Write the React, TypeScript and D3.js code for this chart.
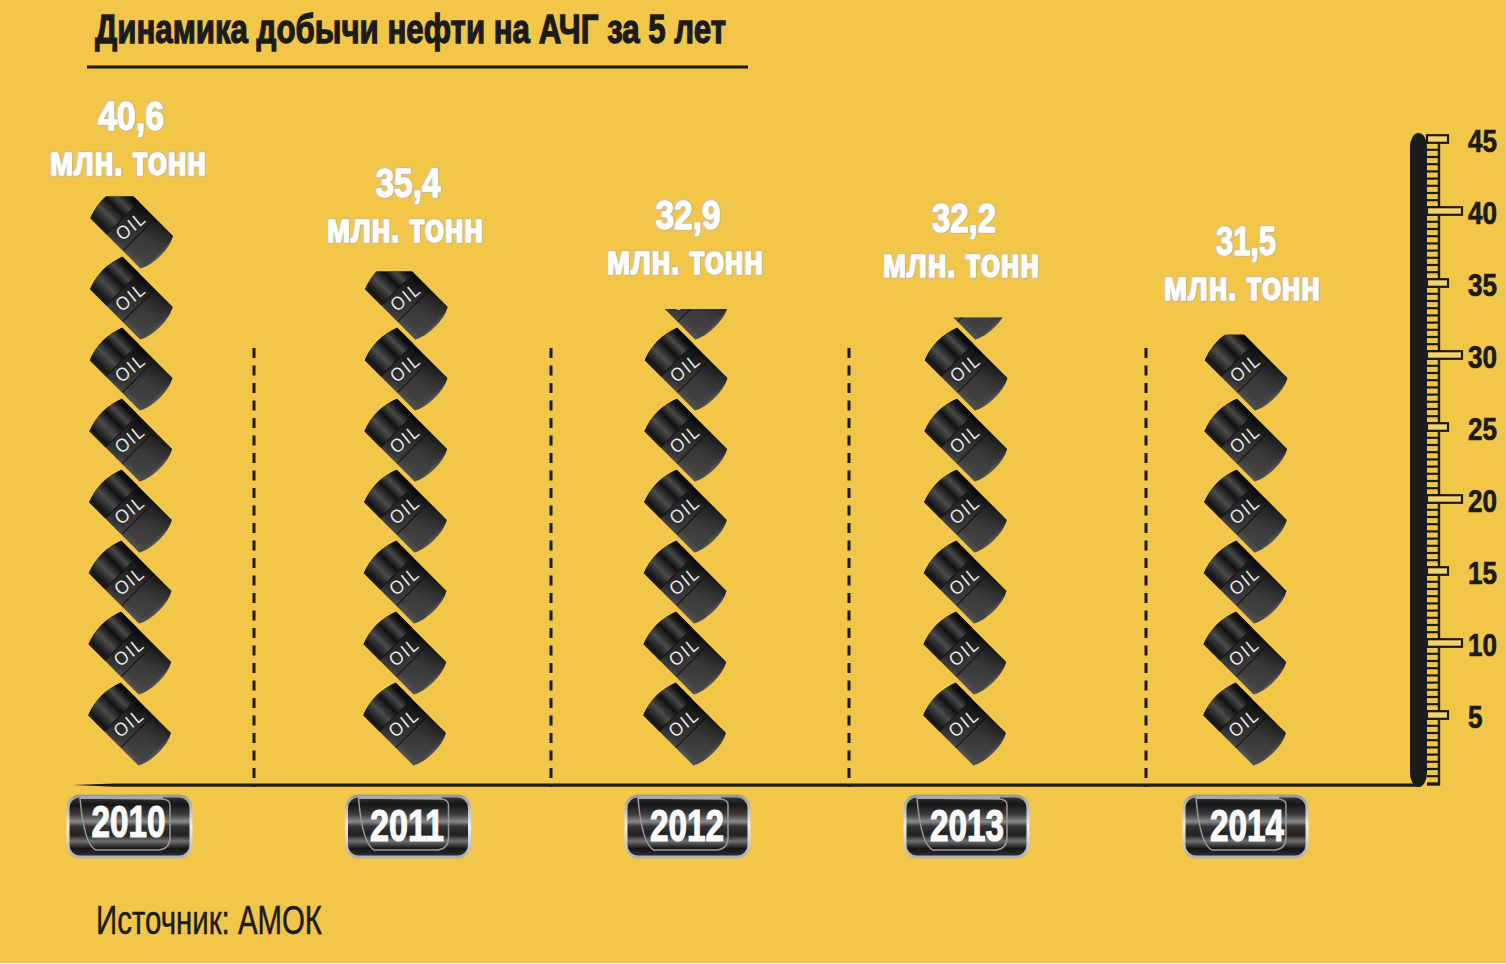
import { useEffect, useRef } from "react";
import * as d3 from "d3";

const years = ["2010", "2011", "2012", "2013", "2014"];
const values = ["40,6", "35,4", "32,9", "32,2", "31,5"];
// how high each stack is cut off, read on the ruler
const stackTops = [41, 35.8, 33.2, 32.6, 31.4];
const barrelCounts = [8, 7, 7, 7, 6];
const rulerLabels = [5, 10, 15, 20, 25, 30, 35, 40, 45];

const unit = "млн. тонн";
const title = "Динамика добычи нефти на АЧГ за 5 лет";
const source = "Источник: АМОК";

const BG = "#f2c649";
const INK = "#1b1b1b";
const NARROW = "'Liberation Sans', sans-serif";

// column centres and label layout
const columnX = [130, 405, 685, 965, 1245];
const badgeX = [129.5, 408, 687.5, 966.5, 1245.5];
const badgeTextX = [128.5, 407, 687, 967, 1247];
const badgeTextBase = [837, 841, 841, 841, 841];
const valueBase = [130, 197, 229, 232, 255];
const unitBase = [175, 242, 274, 277, 300];
const valueX = [131, 408, 688, 964, 1246];
const valueWidths = [66, 65, 65, 64, 60];
const unitX = [128, 405, 685, 961, 1242];
const dividers = [254, 551, 849, 1146];

function drawBarrel(g: any) {
  // local frame: long axis along x, turned 45deg afterwards
  const body = "M-34,-23 Q-43,0 -34,23 L37,23 Q42,14 42,0 Q42,-14 37,-23 Z";
  const head = "M-34,-23 Q-43,0 -34,23 L-11,23 L-11,-23 Z";
  g.append("path").attr("d", body).attr("fill", "url(#barrelSide)");
  g.append("path").attr("d", body).attr("fill", "url(#barrelLen)");
  g.append("path").attr("d", head).attr("fill", "url(#barrelHead)");
  [-11, 12].forEach((x) => {
    g.append("line")
      .attr("x1", x)
      .attr("x2", x)
      .attr("y1", -22.5)
      .attr("y2", 22.5)
      .attr("stroke", "#161616")
      .attr("stroke-width", 1.2);
  });
  g.append("text")
    .attr("transform", "rotate(-84)")
    .attr("text-anchor", "middle")
    .attr("y", 6.5)
    .attr("x", 0)
    .attr("font-family", "'Open Sans', sans-serif")
    .attr("font-size", 18)
    .attr("letter-spacing", 1.5)
    .attr("fill", "#ececec")
    .text("OIL");
}

function drawBadge(g: any, w: number, h: number) {
  g.append("rect")
    .attr("x", -w / 2)
    .attr("y", -h / 2)
    .attr("width", w)
    .attr("height", h)
    .attr("rx", 12)
    .attr("fill", "url(#badgeFill)")
    .attr("stroke", "url(#badgeEdge)")
    .attr("stroke-width", 3);
  g.append("path")
    .attr(
      "d",
      `M${-w / 2 + 12},${-h / 2 + 2} Q${-w / 2 + 16},${h / 2 - 12} ${-w / 2 + 28},${h / 2 - 7} L${w / 2 - 32},${h / 2 - 7} Q${w / 2 - 21},${h / 2 - 8} ${w / 2 - 21},${h / 2 - 20} L${w / 2 - 21},${-h / 2 + 9} Q${w / 2 - 21},${-h / 2 + 3} ${w / 2 - 30},${-h / 2 + 3} Z`
    )
    .attr("fill", "none")
    .attr("stroke", "#9a9a9a")
    .attr("stroke-width", 1.5);
  g.append("rect")
    .attr("x", -w / 2 + 12)
    .attr("y", -h / 2)
    .attr("width", w - 40)
    .attr("height", 3)
    .attr("fill", "#a8a8a8");
}

// white letters with a thin grey rim
function outlined(g: any, x: number, yy: number, size: number, width: number, text: string) {
  [
    ["#b5b5b5", 3],
    ["#ffffff", 1.3],
  ].forEach(([stroke, sw]) => {
    g.append("text")
      .attr("x", x)
      .attr("y", yy)
      .attr("font-family", NARROW)
      .attr("font-weight", 700)
      .attr("font-size", size)
      .attr("textLength", width)
      .attr("lengthAdjust", "spacingAndGlyphs")
      .attr("stroke", stroke)
      .attr("stroke-width", sw)
      .attr("stroke-linejoin", "round")
      .text(text);
  });
}

export default function App() {
  const svgRef = useRef<SVGSVGElement>(null);

  useEffect(() => {
    if (!svgRef.current) return;

    const svg = d3.select(svgRef.current);
    svg.selectAll("*").remove();

    const y = d3.scaleLinear().domain([0, 45]).range([787, 139]);
    const barrelY = d3.scaleLinear().domain([0, 7]).range([723, 226]);

    const defs = svg.append("defs");

    const side = defs
      .append("linearGradient")
      .attr("id", "barrelSide")
      .attr("x1", 0)
      .attr("x2", 0)
      .attr("y1", 0)
      .attr("y2", 1);
    [
      [0, "#0a0a0a"],
      [0.18, "#1f1f1f"],
      [0.5, "#343434"],
      [0.85, "#3c3c3c"],
      [1, "#525252"],
    ].forEach(([o, c]) => side.append("stop").attr("offset", o).attr("stop-color", c));

    const len = defs
      .append("linearGradient")
      .attr("id", "barrelLen")
      .attr("x1", 0)
      .attr("x2", 1)
      .attr("y1", 0)
      .attr("y2", 0);
    [
      [0, "#000", 0.3],
      [0.45, "#000", 0.25],
      [0.7, "#555", 0.15],
      [0.95, "#555", 0.35],
      [1, "#777", 0.6],
    ].forEach(([o, c, a]) =>
      len.append("stop").attr("offset", o).attr("stop-color", c).attr("stop-opacity", a)
    );

    const head = defs
      .append("linearGradient")
      .attr("id", "barrelHead")
      .attr("x1", 0)
      .attr("x2", 0)
      .attr("y1", 0)
      .attr("y2", 1);
    [
      [0, "#0a0a0a"],
      [0.1, "#0f0f0f"],
      [0.27, "#484848"],
      [0.45, "#111111"],
      [0.68, "#4a4a4a"],
      [0.92, "#161616"],
      [1, "#222222"],
    ].forEach(([o, c]) => head.append("stop").attr("offset", o).attr("stop-color", c));

    const fill = defs
      .append("linearGradient")
      .attr("id", "badgeFill")
      .attr("x1", 0)
      .attr("x2", 0)
      .attr("y1", 0)
      .attr("y2", 1);
    [
      [0, "#3a3a3a"],
      [0.14, "#161616"],
      [0.3, "#3c3c3c"],
      [0.42, "#8a8a8a"],
      [0.5, "#333"],
      [0.64, "#222"],
      [0.74, "#707070"],
      [0.86, "#161616"],
      [1, "#303030"],
    ].forEach(([o, c]) => fill.append("stop").attr("offset", o).attr("stop-color", c));

    const edge = defs
      .append("linearGradient")
      .attr("id", "badgeEdge")
      .attr("x1", 0)
      .attr("x2", 0)
      .attr("y1", 0)
      .attr("y2", 1);
    [
      [0, "#9a9a9a"],
      [0.5, "#efefef"],
      [1, "#b0b0b0"],
    ].forEach(([o, c]) => edge.append("stop").attr("offset", o).attr("stop-color", c));

    // Background
    svg.append("rect").attr("width", 1506).attr("height", 963).attr("fill", BG);

    // Title and rule
    svg
      .append("text")
      .attr("x", 95)
      .attr("y", 43)
      .attr("font-family", NARROW)
      .attr("font-weight", 700)
      .attr("font-size", 40)
      .attr("textLength", 631)
      .attr("lengthAdjust", "spacingAndGlyphs")
      .attr("fill", INK)
      .attr("stroke", INK)
      .attr("stroke-width", 1.3)
      .text(title);
    svg
      .append("line")
      .attr("x1", 87)
      .attr("x2", 748)
      .attr("y1", 67)
      .attr("y2", 67)
      .attr("stroke", INK)
      .attr("stroke-width", 3);

    // Dividers
    svg
      .selectAll("line.divider")
      .data(dividers)
      .enter()
      .append("line")
      .attr("class", "divider")
      .attr("x1", (d) => d)
      .attr("x2", (d) => d)
      .attr("y1", 348)
      .attr("y2", y(0))
      .attr("stroke", INK)
      .attr("stroke-width", 3)
      .attr("stroke-dasharray", "10 7.5");

    // Barrel stacks, cut at the stack top
    years.forEach((year, i) => {
      defs
        .append("clipPath")
        .attr("id", `cut-${year}`)
        .append("rect")
        .attr("x", columnX[i] - 60)
        .attr("width", 120)
        .attr("y", y(stackTops[i]))
        .attr("height", y(0) - y(stackTops[i]));

      const stack = svg.append("g").attr("clip-path", `url(#cut-${year})`);
      d3.range(barrelCounts[i]).forEach((k) => {
        const g = stack
          .append("g")
          .attr(
            "transform",
            `translate(${columnX[i] - 1.5 + k * 0.3},${barrelY(k)}) rotate(45)`
          );
        drawBarrel(g);
      });

      const label = svg.append("g").attr("text-anchor", "middle").attr("fill", "#fff");
      outlined(label, valueX[i], valueBase[i], 40, valueWidths[i], values[i]);
      outlined(label, unitX[i], unitBase[i], 40, 157, unit);

      // Year badge
      const badge = svg
        .append("g")
        .attr("transform", `translate(${badgeX[i]},826.5)`);
      drawBadge(badge, 123, 61);
      svg
        .append("text")
        .attr("text-anchor", "middle")
        .attr("x", badgeTextX[i])
        .attr("y", badgeTextBase[i])
        .attr("font-family", NARROW)
        .attr("font-weight", 700)
        .attr("font-size", 44)
        .attr("textLength", 74)
        .attr("lengthAdjust", "spacingAndGlyphs")
        .attr("fill", "#fafafa")
        .attr("stroke", "#fafafa")
        .attr("stroke-width", 1.2)
        .text(year);
    });

    // Base line, tapered at the left end
    const base = d3.path();
    base.moveTo(72, y(0) - 2);
    base.lineTo(115, y(0) - 3.5);
    base.lineTo(1420, y(0) - 3.5);
    base.lineTo(1420, y(0) - 0.3);
    base.lineTo(115, y(0) - 0.3);
    base.closePath();
    svg.append("path").attr("d", base.toString()).attr("fill", INK);

    // Ruler: rungs every half unit
    const ruler = svg.append("g");
    d3.range(0.5, 45, 0.5).forEach((v) => {
      ruler
        .append("line")
        .attr("x1", 1427)
        .attr("x2", 1440)
        .attr("y1", y(v) + 3.6)
        .attr("y2", y(v) + 3.6)
        .attr("stroke", INK)
        .attr("stroke-width", 2.2);
    });
    ruler
      .append("line")
      .attr("x1", 1439)
      .attr("x2", 1439)
      .attr("y1", y(45) - 3)
      .attr("y2", y(0) - 2)
      .attr("stroke", INK)
      .attr("stroke-width", 2.4);
    ruler
      .append("line")
      .attr("x1", 1427)
      .attr("x2", 1440)
      .attr("y1", y(0) - 2.5)
      .attr("y2", y(0) - 2.5)
      .attr("stroke", INK)
      .attr("stroke-width", 2.4);

    rulerLabels.forEach((v) => {
      ruler
        .append("rect")
        .attr("x", 1427)
        .attr("y", y(v) - 3.8)
        .attr("width", v % 10 === 0 ? 35 : 21)
        .attr("height", 7.6)
        .attr("fill", "#f5d36f")
        .attr("stroke", INK)
        .attr("stroke-width", 2.2);
      ruler
        .append("text")
        .attr("x", 1468)
        .attr("y", y(v) + 13)
        .attr("font-family", NARROW)
        .attr("font-weight", 700)
        .attr("font-size", 32)
        .attr("textLength", String(v).length * 14.5)
        .attr("lengthAdjust", "spacingAndGlyphs")
        .attr("fill", INK)
        .attr("stroke", INK)
        .attr("stroke-width", 0.7)
        .text(v);
    });

    // Thick rounded bar of the thermometer
    svg
      .append("rect")
      .attr("x", 1410)
      .attr("y", 133)
      .attr("width", 17)
      .attr("height", 654)
      .attr("rx", 8.5)
      .attr("ry", 14)
      .attr("fill", INK);

    // Source
    svg
      .append("text")
      .attr("x", 96)
      .attr("y", 934)
      .attr("font-family", NARROW)
      .attr("font-size", 40)
      .attr("textLength", 226)
      .attr("lengthAdjust", "spacingAndGlyphs")
      .attr("fill", INK)
      .attr("stroke", INK)
      .attr("stroke-width", 0.5)
      .text(source);
  }, []);

  return (
    <svg
      ref={svgRef}
      width={1506}
      height={964}
      style={{ position: "absolute", left: 0, top: 0, background: "#fff" }}
    ></svg>
  );
}
